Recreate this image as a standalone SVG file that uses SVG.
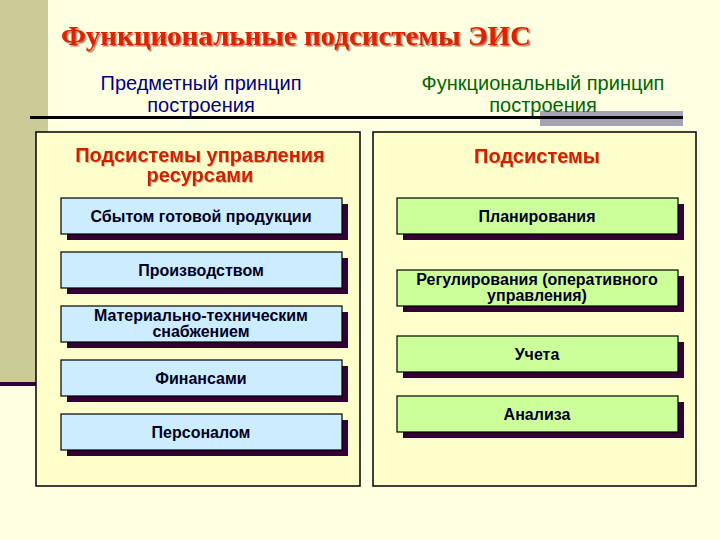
<svg xmlns="http://www.w3.org/2000/svg" width="720" height="540" viewBox="0 0 720 540">
<defs>
<filter id="tsh" x="-5%" y="-20%" width="110%" height="150%">
<feDropShadow dx="1.5" dy="1.5" stdDeviation="0.3" flood-color="#7a1a00" flood-opacity="0.6"/>
</filter>
<filter id="lsh" x="-5%" y="-20%" width="110%" height="150%">
<feDropShadow dx="1" dy="1" stdDeviation="0.3" flood-color="#a08060" flood-opacity="0.5"/>
</filter>
</defs>
<style>
.bg{fill:#FFFFE1}
.panel{fill:#FFFFCC;stroke:#000;stroke-width:1.5}
.shadow{fill:#330033}
.bl{fill:#CCECFF;stroke:#000;stroke-width:1.2}
.gr{fill:#CCFF99;stroke:#000;stroke-width:1.2}
.bt{font-family:"Liberation Sans",Arial,sans-serif;font-weight:bold;font-size:16px;fill:#000022;text-anchor:middle}
.hd{font-family:"Liberation Sans",Arial,sans-serif;font-size:20px;text-anchor:middle}
.sub{font-family:"Liberation Sans",Arial,sans-serif;font-weight:bold;font-size:20px;fill:#CC2200;text-anchor:middle}
.title{font-family:"Liberation Serif","Times New Roman",serif;font-weight:bold;font-size:28px;fill:#DD2200}
</style>
<rect class="bg" x="0" y="0" width="720" height="540"/>
<g id="sidebar">
<rect x="0" y="0" width="48" height="382" fill="#CBCB98"/>
<rect x="0" y="382" width="48" height="4" fill="#330033"/>
</g>
<g id="title">
<text class="title" x="61" y="45" textLength="470" lengthAdjust="spacingAndGlyphs" filter="url(#tsh)">Функциональные подсистемы ЭИС</text>
</g>
<g id="headings">
<text class="hd" x="201" y="90" fill="#000080">Предметный принцип</text>
<text class="hd" x="201" y="112" fill="#000080">построения</text>
<rect x="540" y="111" width="143" height="15" fill="#A3A3B3"/>
<text class="hd" x="543" y="90" fill="#006600">Функциональный принцип</text>
<text class="hd" x="543" y="112" fill="#006600">построения</text>
<rect x="30" y="116" width="653" height="3" fill="#000"/>
</g>
<g id="panel-left">
<rect class="panel" x="36" y="132" width="324" height="354"/>
<text class="sub" x="200" y="162" filter="url(#lsh)">Подсистемы управления</text>
<text class="sub" x="200" y="182" filter="url(#lsh)">ресурсами</text>
</g>
<g id="panel-right">
<rect class="panel" x="373" y="132" width="323" height="354"/>
<text class="sub" x="537" y="163" filter="url(#lsh)">Подсистемы</text>
</g>
<g id="node-sbyt">
<rect class="shadow" x="67" y="204" width="281" height="36"/>
<rect class="bl" x="61" y="198" width="281" height="36"/>
<text class="bt" x="201" y="222">Сбытом готовой продукции</text>
</g>
<g id="node-proizv">
<rect class="shadow" x="67" y="258" width="281" height="36"/>
<rect class="bl" x="61" y="252" width="281" height="36"/>
<text class="bt" x="201" y="276">Производством</text>
</g>
<g id="node-mts">
<rect class="shadow" x="67" y="312" width="281" height="36"/>
<rect class="bl" x="61" y="306" width="281" height="36"/>
<text class="bt" x="201" y="321">Материально-техническим</text>
<text class="bt" x="201" y="337">снабжением</text>
</g>
<g id="node-fin">
<rect class="shadow" x="67" y="366" width="281" height="36"/>
<rect class="bl" x="61" y="360" width="281" height="36"/>
<text class="bt" x="201" y="384">Финансами</text>
</g>
<g id="node-pers">
<rect class="shadow" x="67" y="420" width="281" height="36"/>
<rect class="bl" x="61" y="414" width="281" height="36"/>
<text class="bt" x="201" y="438">Персоналом</text>
</g>
<g id="node-plan">
<rect class="shadow" x="403" y="204" width="281" height="36"/>
<rect class="gr" x="397" y="198" width="281" height="36"/>
<text class="bt" x="537" y="222">Планирования</text>
</g>
<g id="node-reg">
<rect class="shadow" x="403" y="276" width="281" height="36"/>
<rect class="gr" x="397" y="270" width="281" height="36"/>
<text class="bt" x="537" y="285">Регулирования (оперативного</text>
<text class="bt" x="537" y="301">управления)</text>
</g>
<g id="node-uchet">
<rect class="shadow" x="403" y="342" width="281" height="36"/>
<rect class="gr" x="397" y="336" width="281" height="36"/>
<text class="bt" x="537" y="360">Учета</text>
</g>
<g id="node-analiz">
<rect class="shadow" x="403" y="402" width="281" height="36"/>
<rect class="gr" x="397" y="396" width="281" height="36"/>
<text class="bt" x="537" y="420">Анализа</text>
</g>
<g id="connectors"/>
</svg>
